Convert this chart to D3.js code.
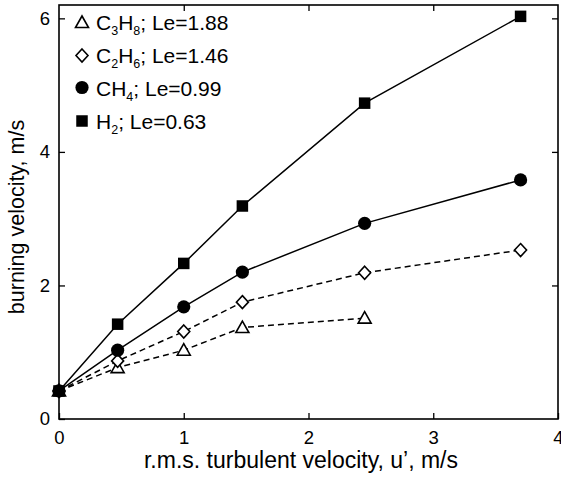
<!DOCTYPE html>
<html><head><meta charset="utf-8">
<script src="https://cdn.jsdelivr.net/npm/d3@7"></script>
<style>body{margin:0;background:#fff}svg{display:block}text{font-family:"Liberation Sans",Arial,sans-serif;fill:#000}</style>
</head><body><svg id="c" width="561" height="482"></svg>
<script>
const uPrime = [0, 0.47, 1.0, 1.47, 2.45, 3.7];
const h2 = [0.42, 1.42, 2.33, 3.19, 4.73, 6.03];
const ch4 = [0.42, 1.03, 1.68, 2.2, 2.93, 3.58];
const c2h6 = [0.42, 0.87, 1.31, 1.75, 2.19, 2.53];
const c3h8 = [0.42, 0.77, 1.03, 1.37, 1.51];
const xTicks = [0, 1, 2, 3, 4];
const yTicks = [0, 2, 4, 6];
const series = [
  {name:"C3H8", sub:[["C",""],["3","s"],["H",""],["8","s"]], le:"; Le=1.88", vals:c3h8, shape:"tri", dash:true},
  {name:"C2H6", sub:[["C",""],["2","s"],["H",""],["6","s"]], le:"; Le=1.46", vals:c2h6, shape:"dia", dash:true},
  {name:"CH4", sub:[["CH",""],["4","s"]], le:"; Le=0.99", vals:ch4, shape:"cir", dash:false},
  {name:"H2", sub:[["H",""],["2","s"]], le:"; Le=0.63", vals:h2, shape:"sq", dash:false}
];
const svg = d3.select("#c");
const L=59,R=558,T=5,B=419;
const x = d3.scaleLinear().domain([0,4]).range([L,R]);
const y = d3.scaleLinear().domain([0,6.2]).range([B,T]);
const g = svg.append("g");
g.append("rect").attr("x",L).attr("y",T).attr("width",R-L).attr("height",B-T).attr("fill","none").attr("stroke","#000").attr("stroke-width",1.6);
const ax = (sel)=>sel.call(s=>s.select(".domain").remove()).call(s=>s.selectAll("line").attr("stroke","#000").attr("stroke-width",1.3));
g.append("g").attr("transform",`translate(0,${B})`).call(d3.axisBottom(x).tickValues(xTicks).tickFormat(d3.format("d")).tickSizeInner(-6).tickPadding(12)).call(ax).selectAll("text").attr("font-size",18.5).attr("font-family","Liberation Sans, Arial");
g.append("g").attr("transform",`translate(0,${T})`).call(d3.axisTop(x).tickValues(xTicks.slice(1,-1)).tickFormat("").tickSizeInner(-6)).call(ax);
g.append("g").attr("transform",`translate(${L},0)`).call(d3.axisLeft(y).tickValues(yTicks).tickFormat(d3.format("d")).tickSizeInner(-6).tickPadding(9)).call(ax).selectAll("text").attr("font-size",18.5).attr("font-family","Liberation Sans, Arial");
g.append("g").attr("transform",`translate(${R},0)`).call(d3.axisRight(y).tickValues(yTicks.slice(1)).tickFormat("").tickSizeInner(-6)).call(ax);
svg.selectAll(".tick text").attr("fill","#000");
svg.append("text").attr("x",301).attr("y",468).attr("text-anchor","middle").attr("font-size",23).text("r.m.s. turbulent velocity, u\u2019, m/s");
svg.append("text").attr("transform",`translate(24,217) rotate(-90)`).attr("text-anchor","middle").attr("font-size",21.5).text("burning velocity, m/s");
const line = d3.line().x((d,i)=>x(uPrime[i])).y(d=>y(d));
series.forEach(s=>{
  g.append("path").datum(s.vals).attr("d",line).attr("fill","none").attr("stroke","#000").attr("stroke-width",1.5).attr("stroke-dasharray",s.dash?"6,4":null);
});
function marker(sel,shape){
  if(shape==="sq") sel.append("rect").attr("x",-5.75).attr("y",-5.75).attr("width",11.5).attr("height",11.5).attr("fill","#000");
  else if(shape==="cir") sel.append("circle").attr("r",6.6).attr("fill","#000");
  else if(shape==="dia") sel.append("path").attr("d","M0,-6.5L6,0L0,6.5L-6,0Z").attr("fill","#fff").attr("stroke","#000").attr("stroke-width",1.6);
  else if(shape==="tri") sel.append("path").attr("d","M0,-6.5L6.5,5L-6.5,5Z").attr("fill","#fff").attr("stroke","#000").attr("stroke-width",1.6);
}
series.forEach(s=>{
  s.vals.forEach((v,i)=>{
    const m = g.append("g").attr("transform",`translate(${x(uPrime[i])},${y(v)})`);
    marker(m,s.shape);
  });
});
const legY=[22.5,55.5,87.5,121];
const legBase=[29.5,62.5,95.5,129];
series.forEach((s,k)=>{
  const m = svg.append("g").attr("transform",`translate(82,${legY[k]})`);
  marker(m,s.shape);
  const t = svg.append("text").attr("x",96).attr("y",legBase[k]).attr("font-size",21);
  let low=false;
  s.sub.forEach(([txt,kind])=>{
    if(kind==="s"){ t.append("tspan").attr("font-size",12.5).attr("dy",low?0:5).text(txt); low=true; }
    else { t.append("tspan").attr("dy",low?-5:0).text(txt); low=false; }
  });
  t.append("tspan").attr("dy",low?-5:0).text(s.le);
});
</script></body></html>
